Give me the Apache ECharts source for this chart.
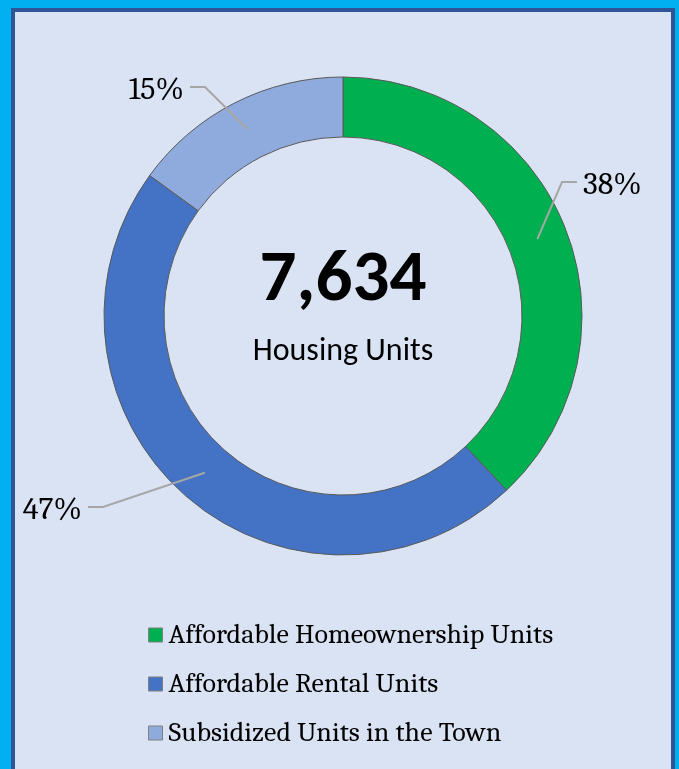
<!DOCTYPE html>
<html>
<head>
<meta charset="utf-8">
<script src="https://cdn.jsdelivr.net/npm/echarts@6/dist/echarts.min.js"></script>
<style>
  html, body { margin: 0; padding: 0; }
  #wrap {
    position: relative;
    width: 679px;
    height: 769px;
    background: #00B0F0;
    overflow: hidden;
  }
  #panel {
    position: absolute;
    left: 11px;
    top: 8px;
    width: 656px;
    height: 780px;
    border: 4px solid #2F5597;
    border-bottom: none;
    background: #DAE3F3;
  }
  #chart {
    position: absolute;
    left: 0;
    top: 0;
    width: 679px;
    height: 769px;
  }
</style>
</head>
<body>
<div id="wrap">
  <div id="panel"></div>
  <div id="chart"></div>
</div>
<script>
// data
var categories = ['Affordable Homeownership Units', 'Affordable Rental Units', 'Subsidized Units in the Town']
var shares = [38, 47, 15]
var colors = ['#00B050', '#4472C4', '#8FAADC']
var totalUnits = '7,634'
var totalCaption = 'Housing Units'

var serif = 'Cambria, "DejaVu Serif", serif'
var sans = 'Calibri, Carlito, "Open Sans", sans-serif'

var pieCenter = [343, 316]
var innerR = 179
var outerR = 239

// where the percentage labels sit (outside the ring)
var labelSpots = [[577, 185], [88, 510], [190, 90]]
var labelAlign = ['left', 'right', 'right']

var chart = echarts.init(document.getElementById('chart'))

var pieData = []
var labelData = []
var total = 0
for (var i = 0; i < categories.length; i++) {
  pieData.push({ name: categories[i], value: shares[i], itemStyle: { color: colors[i] } })
  labelData.push({ name: categories[i], value: shares[i] })
  total += shares[i]
}

// leader lines start in the middle of the ring, like the original
function midRingPoint (idx) {
  var before = 0
  for (var k = 0; k < idx; k++) before += shares[k]
  var a = (before + shares[idx] / 2) / total * Math.PI * 2
  var r = (innerR + outerR) / 2
  return [pieCenter[0] + r * Math.sin(a), pieCenter[1] - r * Math.cos(a)]
}

var option = {
  backgroundColor: 'transparent',
  animation: false,
  title: {
    text: totalUnits,
    subtext: totalCaption,
    left: 338,
    top: 240,
    textAlign: 'center',
    itemGap: 18,
    textStyle: { fontFamily: sans, fontWeight: 'bold', fontSize: 73, color: '#000' },
    subtextStyle: { fontFamily: sans, fontSize: 32, color: '#000' }
  },
  legend: {
    orient: 'vertical',
    left: 143,
    top: 616,
    itemWidth: 14,
    itemHeight: 14,
    itemGap: 21,
    icon: 'rect',
    itemStyle: { borderColor: '#7F7F7F', borderWidth: 1 },
    textStyle: { fontFamily: serif, fontSize: 28, color: '#000', padding: [0, 0, 0, 1] },
    data: categories
  },
  series: [
    {
      type: 'pie',
      center: pieCenter,
      radius: [innerR, outerR],
      startAngle: 90,
      clockwise: true,
      itemStyle: { borderColor: '#595959', borderWidth: 1 },
      label: { show: false },
      labelLine: { show: false },
      emphasis: { disabled: true },
      data: pieData
    },
    {
      // transparent copy on top, only carries the labels and leader lines
      type: 'pie',
      z: 5,
      silent: true,
      legendHoverLink: false,
      center: pieCenter,
      radius: [innerR, outerR],
      startAngle: 90,
      clockwise: true,
      percentPrecision: 0,
      itemStyle: { color: 'rgba(0,0,0,0)', borderWidth: 0 },
      label: {
        show: true,
        position: 'outside',
        formatter: '{d}%',
        fontFamily: serif,
        fontSize: 32,
        color: '#000',
        padding: [0, 6]
      },
      labelLine: {
        show: true,
        length: 12,
        length2: 12,
        lineStyle: { color: '#A6A6A6', width: 2 }
      },
      labelLayout: function (params) {
        var idx = params.dataIndex
        var p = labelSpots[idx]
        var dir = labelAlign[idx] === 'left' ? -1 : 1
        var endX = p[0]
        var lineY = p[1] - 3
        return {
          x: p[0],
          y: p[1],
          align: labelAlign[idx],
          verticalAlign: 'middle',
          labelLinePoints: [midRingPoint(idx), [endX + dir * 15, lineY], [endX, lineY]]
        }
      },
      emphasis: { disabled: true },
      data: labelData
    }
  ]
}

chart.setOption(option)
</script>
</body>
</html>
